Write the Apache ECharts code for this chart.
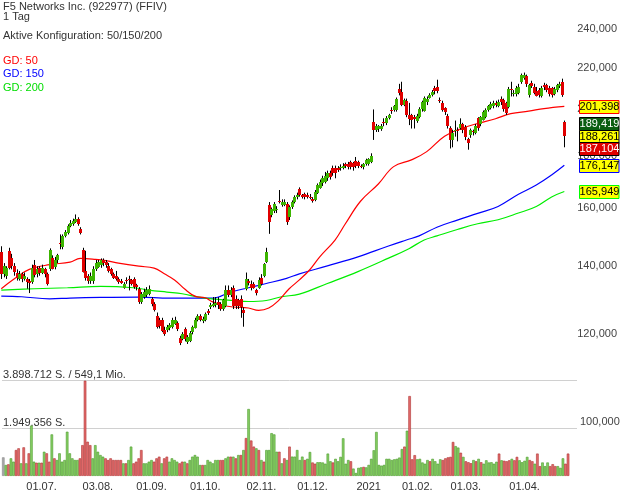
<!DOCTYPE html>
<html><head><meta charset="utf-8">
<script src="https://cdn.jsdelivr.net/npm/echarts@6/dist/echarts.min.js"></script>
<style>html,body{margin:0;padding:0;background:#fff}#c{width:620px;height:496px}</style>
</head><body><div id="c"></div>
<script>
// ---- trading days (US) ----
const tradingDays = [
  ['2020-06',[10,11,12,15,16,17,18,19,22,23,24,25,26,29,30]],
  ['2020-07',[1,2,6,7,8,9,10,13,14,15,16,17,20,21,22,23,24,27,28,29,30,31]],
  ['2020-08',[3,4,5,6,7,10,11,12,13,14,17,18,19,20,21,24,25,26,27,28,31]],
  ['2020-09',[1,2,3,4,8,9,10,11,14,15,16,17,18,21,22,23,24,25,28,29,30]],
  ['2020-10',[1,2,5,6,7,8,9,12,13,14,15,16,19,20,21,22,23,26,27,28,29,30]],
  ['2020-11',[2,3,4,5,6,9,10,11,12,13,16,17,18,19,20,23,24,25,27,30]],
  ['2020-12',[1,2,3,4,7,8,9,10,11,14,15,16,17,18,21,22,23,24,28,29,30,31]],
  ['2021-01',[4,5,6,7,8,11,12,13,14,15,19,20,21,22,25,26,27,28,29]],
  ['2021-02',[1,2,3,4,5,8,9,10,11,12,16,17,18,19,22,23,24,25,26]],
  ['2021-03',[1,2,3,4,5,8,9,10,11,12,15,16,17,18,19,22,23,24,25,26,29,30,31]],
  ['2021-04',[1,5,6,7,8,9,12,13,14,15,16,19,20,21,22,23,26,27]]
];
const emptySlots = ['pad1','pad2','pad3'];

const opens = [144.5,137.5,137,145,142.5,140,138,136,137.5,136,136,135.5,135,140.3,137.5,139.5,138,139,137.6,139,142.8,139.8,142,147.5,146.3,150,151,153.5,154,155,156,152.5,145.3,138.5,136.8,135.5,135.4,139,140,140.5,142,141.5,140,139,137.6,137,136,135.5,133.3,135.8,136,135.7,136,134,133,129,130.5,131,131.5,129.8,128.4,125,123.8,124,121,121.2,121.7,122,123,123,119,118.8,121.3,117.9,118.2,120.3,121.8,124,125,123.5,124,126.4,127.8,128,128.2,129,128.5,127,128,132.6,131,133.1,130,129.5,130,126.7,133,135.5,134.6,134.6,132.6,133.4,136.3,136.8,141.4,160.9,157.3,158.7,159,162.5,160.9,161,161.3,156.6,160.2,162,163.9,166.9,164.6,165,164.8,164,163.1,162.8,165.5,167.3,169,169.6,171,173.1,175.1,175.1,175.1,175,175.1,176.6,176.6,177.4,177,177.8,177.5,175.9,175.5,176.7,176.5,177.5,194.4,190.7,191.1,191.5,194.5,194,196.1,199.8,199.5,199.9,209.5,208,202.3,204,197.6,197.6,196.5,195,197,200,199.5,203.5,205.5,206.7,209.8,210.5,204.5,203,200.5,197,191.6,186.6,190.6,190.7,192,193.3,192,186.9,188.5,190.3,189.6,196,193.2,195.5,196.6,199.7,200.5,201.3,202.9,201.5,204.7,204.2,202.9,201,209.4,207.2,206.8,208,213,214.8,215.8,206.5,212.5,210.6,208.8,209,206.2,211.5,211.3,210.2,209.8,207,209,210.6,212.9,194.4];
const closes = [137.5,140,139.5,139.5,140,138,136.5,137.5,136,137,135,135,139.3,137,139,138,139.5,137.5,134.5,145.3,139.4,142,143.5,147,149.9,151.5,153.4,154.5,155,156,154.2,151,138.3,136.3,135.4,137,139,141,141.5,142,141,140.5,138.5,137.5,136.5,136,135,135,134.4,135.4,135.6,134.5,133.5,133.3,129,131.5,132,132.6,133,128.4,126.7,122,122.2,121,120,122,122.5,124,124,121.2,117.6,120.1,118.6,119.2,120.3,121.8,124,125,124,124.2,125.6,125.7,128.3,128.6,128.8,128,127,129.5,132.6,131.2,132.6,127.9,127.9,127.6,127.6,125.8,136.1,134.8,133.5,133.5,131.8,135.7,134.5,140.7,144.6,154.8,159.5,161.3,159.5,162.2,162,162.2,154.8,160.2,162,163.9,164.6,164.6,163.9,163.9,164,163.8,162.4,165.8,168.4,169.6,171.1,171.9,173.1,171.7,173.1,173.1,174.3,175.5,175.9,175.9,175.5,175.5,175.5,175.8,176,175.8,176.7,178.3,178.5,180,191.1,192.4,192.4,192.8,194,196,197.3,199.3,201.5,204.8,207.4,202,204.4,197.6,195.6,195.5,195.5,197.2,200.4,203.4,205.4,205,206.7,208,208.2,208.6,204.2,199.9,198.5,192.5,186.6,189.4,190.9,190.3,193.7,190.8,187.6,185.2,190.8,189.8,192.6,191.5,196.5,198.9,199.8,201.5,202.5,202.9,202.2,203.5,203.1,200,198.3,209.5,209,207.8,209.8,210.7,216.2,216.2,211.7,211.2,211.2,207.9,206.5,206.7,210.2,210.4,209,207.3,206.5,209.4,211.2,211.8,206.8,188.261];
const highs = [146.5,141,140,146,144,141,139,138.5,138,138,136.5,136,140.5,142,140,140,140.5,139.5,138,145.8,143.5,143,144,150.5,150.5,152,154,155.5,156,157.5,156.5,153,146,145,137.5,138,140,142,142,142.5,142.5,142,141,139.5,138,138.5,136.5,136,135,136.5,137,136,136.5,134.5,133.5,132,133,133.5,134,130.5,129,126,124.5,124.5,122,122.5,123,124.5,124.8,123.5,119.5,120.5,121.8,119.7,120.8,122.3,124.5,125.5,125.5,124.8,126,127,128.8,130.5,130.5,130.5,129,130,134,134,133.5,134,131,130,131,127.5,138,136,135.5,135,133,136.5,137.5,141,146,162,160,162,160.5,166.5,163,163,162,160.8,162.6,164.5,165.5,167.5,165,165.5,165.5,165,163.8,166.5,169,170.5,172,173.5,174,174,176,176,175.8,176.5,177,177.2,177.5,178,177.5,179.5,178,176.5,177,178.8,179,181,200,193.5,193,193.5,196,197,198,201,202,205.5,212,213,205,205,203,198,197.5,198,201,204,206,206,207.5,209,211,214,205.5,204,201,198,192.5,191,195,192,196,194,193,187.5,191.5,191,193.5,196.5,197,199.5,200.5,202,203.5,204,204,204.5,206,205,203.5,210.5,213,209,211,212,217,217.5,216.5,212,213.5,212,210.5,210,211,212.5,212,211,210.5,210.5,212,213,214.5,195];
const lows = [136,136.5,136,139,139,137,135.5,135.5,135,135.5,133,131.7,134.5,136.5,136.5,137,137.5,136.5,134,138.5,139,139,141,145.5,145.5,149.5,150.5,153,153.5,154.5,153.5,150.5,138,135.5,134.5,134.5,134.5,138.5,139.5,139.5,140,139.5,138,137,136,135.5,134.5,134.5,133,134.5,132.5,134,133,132.5,128.5,128.5,130,130.5,131,127.8,126.3,121.5,121.5,120.5,119.5,120.5,121,121.5,122.5,120.8,117,118.3,118,117.3,117.8,119.9,121.5,123.5,123.5,123,123.5,125.3,127,127.5,127.5,127,126.5,126.5,127.5,130.5,130.5,127,127,127,124.5,122,132.5,134,132.5,133,131,133,134,136.5,141,150.7,156.5,158,158,161.5,160.3,160.5,153.8,155.5,159.5,161.5,163,164,163.3,163,163.3,163,161.8,162.3,165,167,168,169,170,170.5,172,171,173.5,174,174.5,175,174.5,174.5,174,175,175,175,174.5,176,176,177,186.6,190,190,190.5,192.5,193,195.5,198,199,199,206.5,201.5,201.5,196.5,193,191.5,191.5,194,196,199,199,202,205,206,207,207.5,203,199,197.5,191.5,183,183.5,188,186,191,189.5,186.5,182.5,187.5,188.5,189,190.5,192.5,195,196,199,200,200.5,201,201,202,199,197.5,200.5,206,206,206,207,212,214,210.5,205.5,210,207,206,205.5,205.5,209,208,206,205.5,206.5,208,210,205.8,183.5];
// volume in thousand shares
const volumesK = [760,447,475,720,583,1060,1130,515,1170,515,925,2060,583,540,540,540,990,925,583,1700,720,650,925,583,650,1810,925,720,650,650,720,1260,3898.712,1400,1260,720,1260,990,855,788,720,650,720,650,650,650,650,515,515,650,1200,515,583,720,1060,515,515,583,650,583,720,788,515,720,788,583,720,650,583,515,583,583,515,650,788,855,788,447,447,447,650,583,515,650,650,650,650,720,788,788,788,720,855,855,1060,1550,2740,1450,1200,1130,1060,650,583,1060,1060,1750,1700,990,990,515,720,650,1200,790,790,1060,650,790,650,700,980,550,500,560,560,550,500,914,600,550,700,600,780,1540,500,650,600,300,120,330,350,370,350,450,700,1050,1800,450,420,450,700,700,650,680,700,750,1100,1200,1850,3270,680,850,680,700,550,500,650,600,700,600,500,680,650,720,760,780,1390,1220,1160,950,780,600,560,520,650,600,700,560,500,640,550,560,500,580,914,640,620,600,640,700,640,780,640,560,620,780,650,600,500,914,400,550,400,550,400,480,400,400,330,720,500,914];
const volumeGridLines = [1949356, 3898712];
const volumeLineLabels = ['1.949.356 S.', '3.898.712 S. / 549,1 Mio.'];

// moving averages: [candle index, value]
const ma50Points = [[0,133.0],[5,136],[11,139],[19,140.5],[27,141.3],[31,142.5],[37,142.2],[41,141.8],[46,141.0],[54,140],[60,139.4],[64,137.6],[68,135.7],[72,132.9],[76,130.8],[80,130.3],[83,129.1],[87,128.1],[91,127.6],[97,127.3],[101,126.6],[105,127.3],[109,129.6],[113,133.0],[117,135.7],[121,138.8],[125,143.0],[131,148.6],[135,154.1],[141,162.3],[148,168.8],[154,175.6],[161,178.3],[167,181.7],[174,188.2],[181,191.7],[187,193.7],[194,195.8],[200,198.1],[207,199.2],[213,200.4],[221,201.398]];
const ma150Points = [[0,130.8],[8,130.6],[19,130.0],[27,130.2],[39,130.4],[54,130.5],[66,130.2],[78,130.2],[83,130.2],[90,132.0],[97,133.3],[104,134.6],[112,136.2],[117,137.6],[128,140.1],[140,143.0],[152,146.6],[159,148.6],[164,150],[171,153],[179,155.5],[187,157.9],[195,160.4],[203,164.9],[210,168.4],[216,172.3],[221,176.147]];
const ma200Points = [[0,132.6],[13,133.0],[26,133.3],[39,133.7],[52,133.3],[58,132.6],[65,132.0],[71,131.5],[78,130.4],[84,129.9],[91,129.5],[97,129.2],[104,129.5],[110,130.6],[117,131.4],[128,134.6],[140,138.3],[152,142.6],[160,145.7],[166,148.6],[171,150],[179,152.2],[187,154.2],[195,155.6],[203,158],[210,160.4],[216,163.9],[221,165.949]];
const priceTicks = [100,120,140,160,180,200,220,240];
const quoteTags = [189.419, 188.261, 187.104];

// ---- build ----
const categories = [];
tradingDays.forEach(([ym, days]) => days.forEach(d => categories.push(ym + '-' + String(d).padStart(2,'0'))));
const dataLen = categories.length;
emptySlots.forEach(s => categories.push(s));

const candleData = opens.map((o,i) => [i, o, closes[i], lows[i], highs[i]]);
const volData = volumesK.map((v,i) => {
  let col = '#aaaaaa', bcol = '#888888';
  if (i > 0) {
    if (closes[i] >= closes[i-1]) { col = '#86cf64'; bcol = '#4c9a2c'; }
    else { col = '#e26b6b'; bcol = '#b03434'; }
  }
  return { value: v * 1000, itemStyle: { color: col, borderColor: bcol } };
});

function isMonthStart(idx) {
  if (idx <= 0 || idx >= dataLen) return false;
  return categories[idx].slice(0,7) !== categories[idx-1].slice(0,7);
}
function dateLabel(val) {
  const [y,m,d] = val.split('-');
  if (m === '01') return y;
  return d + '.' + m + '.';
}
const FONT = 'Liberation Sans, Arial, sans-serif';
const fmtPrice = v => Number(v).toFixed(3).replace('.', ',');

const chart = echarts.init(document.getElementById('c'), null, {renderer: 'canvas'});
const option = {
  animation: false,
  backgroundColor: '#ffffff',
  textStyle: { fontFamily: FONT },
  grid: [
    { left: 0, right: 43, top: 0, height: 360 },
    { left: 0, right: 43, top: 380.7, height: 95.2 }
  ],
  xAxis: [
    { type: 'category', gridIndex: 0, data: categories, boundaryGap: true,
      axisLine: {show:false}, axisTick: {show:false}, axisLabel: {show:false}, splitLine: {show:false} },
    { type: 'category', gridIndex: 1, data: categories, boundaryGap: true,
      axisLine: {show:false}, axisTick: {show:false}, splitLine: {show:false},
      axisLabel: { show: true, interval: (idx) => isMonthStart(idx), formatter: dateLabel,
        color: '#333', fontSize: 11, fontFamily: FONT, margin: 6 } }
  ],
  yAxis: [
    { type: 'log', gridIndex: 0, position: 'right', logBase: 10, min: 113.1, max: 256.54,
      axisLine: {show:false}, axisTick: {show:false, customValues: priceTicks}, splitLine: {show:false},
      axisLabel: { customValues: priceTicks, formatter: fmtPrice, color: '#444', fontSize: 11, fontFamily: FONT, margin: 4 } },
    { type: 'value', gridIndex: 1, min: 0, max: volumeGridLines[1], interval: volumeGridLines[0],
      axisLine: {show:false}, axisTick: {show:false},
      splitLine: { show: true, lineStyle: { color: ['rgba(0,0,0,0)', '#d0d0d0', '#d0d0d0'], width: 1 } },
      axisLabel: { show: true, inside: true, margin: 1, color: '#333', fontSize: 11, fontFamily: FONT,
        verticalAlign: 'bottom', showMinLabel: true, showMaxLabel: true,
        formatter: v => { const k = volumeGridLines.indexOf(v); return k >= 0 ? volumeLineLabels[k] : ''; } } }
  ],
  series: [
    { type: 'line', name: 'GD 150', xAxisIndex: 0, yAxisIndex: 0, data: ma150Points, smooth: 0.4,
      showSymbol: false, lineStyle: { color: '#0000ff', width: 1.2 }, z: 2, silent: true },
    { type: 'line', name: 'GD 200', xAxisIndex: 0, yAxisIndex: 0, data: ma200Points, smooth: 0.4,
      showSymbol: false, lineStyle: { color: '#00ee00', width: 1.2 }, z: 2, silent: true },
    { type: 'line', name: 'GD 50', xAxisIndex: 0, yAxisIndex: 0, data: ma50Points, smooth: 0.4,
      showSymbol: false, lineStyle: { color: '#ff0000', width: 1.2 }, z: 2, silent: true },
    { type: 'custom', name: 'Kurs', xAxisIndex: 0, yAxisIndex: 0, data: candleData, z: 3,
      encode: { x: 0, y: [1,2,3,4] },
      renderItem: (params, api) => {
        const i = api.value(0), o = api.value(1), c = api.value(2), l = api.value(3), h = api.value(4);
        const po = api.coord([i, o]), pc = api.coord([i, c]), pl = api.coord([i, l]), ph = api.coord([i, h]);
        const x = Math.round(po[0]);
        const top = Math.min(po[1], pc[1]), bot = Math.max(po[1], pc[1]);
        return { type: 'group', children: [
          { type: 'line', shape: { x1: x + 0.5, y1: ph[1], x2: x + 0.5, y2: pl[1] }, style: { stroke: '#000', lineWidth: 1 } },
          { type: 'rect', shape: { x: x - 1, y: Math.round(top), width: 3, height: Math.max(1, Math.round(bot - top)) },
            style: { fill: c >= o ? '#3cb400' : '#e00000' } }
        ]};
      } },
    { type: 'bar', name: 'Volumen', xAxisIndex: 1, yAxisIndex: 1, data: volData, barCategoryGap: '0%',
      itemStyle: { borderWidth: 0.6 }, silent: true }
  ],
  graphic: []
};
chart.setOption(option);

// ---- text & value tags ----
const texts = [
  { t: 'F5 Networks Inc. (922977) (FFIV)', y: 6.5, c: '#333' },
  { t: '1 Tag', y: 16.5, c: '#333' },
  { t: 'Aktive Konfiguration: 50/150/200', y: 35.5, c: '#333' },
  { t: 'GD: 50', y: 60.7, c: '#ff0000' },
  { t: 'GD: 150', y: 74, c: '#0000ff' },
  { t: 'GD: 200', y: 88.3, c: '#00dd00' }
];
const g = texts.map(o => ({ type: 'text', x: 3, y: o.y, z: 50,
  style: { text: o.t, fill: o.c, font: '11px ' + FONT, textVerticalAlign: 'middle' } }));

const yOf = v => chart.convertToPixel({ yAxisIndex: 0 }, v);
// label for 100,000 shown in the volume panel area
g.push({ type: 'text', x: 580, y: 422, z: 50, style: { text: fmtPrice(100), fill: '#444', font: '11px ' + FONT, textVerticalAlign: 'middle' } });

const lastY = yOf(quoteTags[1]);
const tags = [
  { v: ma50Points[ma50Points.length-1][1], y: yOf(ma50Points[ma50Points.length-1][1]), fill: '#ffff00', stroke: '#ff0000', txt: '#000' },
  { v: quoteTags[0], y: lastY - 12.6, fill: '#0b5e12', stroke: '#000', txt: '#fff' },
  { v: quoteTags[1], y: lastY, fill: '#ffff00', stroke: '#000', txt: '#000' },
  { v: quoteTags[2], y: lastY + 12.6, fill: '#e00000', stroke: '#000', txt: '#fff' },
  { v: ma150Points[ma150Points.length-1][1], y: yOf(ma150Points[ma150Points.length-1][1]), fill: '#ffff00', stroke: '#0000ff', txt: '#000' },
  { v: ma200Points[ma200Points.length-1][1], y: yOf(ma200Points[ma200Points.length-1][1]), fill: '#ffff00', stroke: '#00ff00', txt: '#000' }
];
tags.forEach((t, k) => {
  g.push({ type: 'rect', z: 60 + k, shape: { x: 579.5, y: Math.round(t.y - 6.5) + 0.5, width: 39.5, height: 13 },
    style: { fill: t.fill, stroke: t.stroke, lineWidth: 1 } });
  g.push({ type: 'text', z: 60 + k, x: 599.5, y: Math.round(t.y - 6.5) + 7,
    style: { text: fmtPrice(t.v), fill: t.txt, font: '11px ' + FONT, textAlign: 'center', textVerticalAlign: 'middle' } });
});
chart.setOption({ graphic: g });
</script>
</body></html>
